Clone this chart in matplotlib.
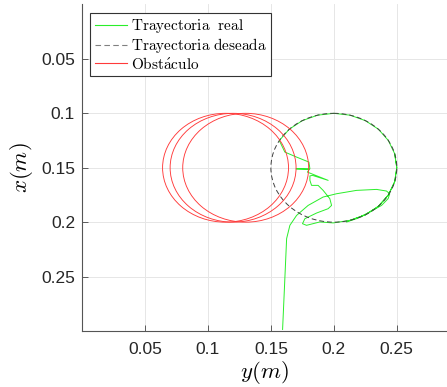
import matplotlib
matplotlib.use('Agg')
import matplotlib.pyplot as plt
from matplotlib.patches import Circle
from matplotlib.lines import Line2D

plt.rcParams['mathtext.fontset'] = 'cm'
plt.rcParams['font.family'] = ['Liberation Sans', 'DejaVu Sans']
plt.rcParams['xtick.direction'] = 'in'
plt.rcParams['ytick.direction'] = 'in'

# desired trajectory (circle) and obstacle positions
desired_center = (0.2, 0.15)
desired_radius = 0.05
obstacle_centers = [0.114, 0.120, 0.130]
obstacle_row = 0.15
obstacle_radius = 0.05

# real trajectory (horizontal = y, vertical = x)
real_y = [0.1593, 0.1611, 0.1625, 0.1651, 0.1704, 0.1796, 0.1915, 0.2021, 0.2180, 0.2339,
          0.2418, 0.2444, 0.2431, 0.2379, 0.2286, 0.2180, 0.2101,
          0.2129, 0.2250, 0.2354, 0.2433, 0.2483, 0.2500, 0.2483, 0.2433, 0.2354, 0.2250,
          0.2129, 0.2000, 0.1871, 0.1750, 0.1646, 0.1567,
          0.1611, 0.1704, 0.1783, 0.1802, 0.1810, 0.1700, 0.1805, 0.1790, 0.1955, 0.1830,
          0.1810, 0.1810, 0.1823, 0.1875, 0.1915, 0.1968, 0.1982, 0.1955, 0.1863, 0.1770,
          0.1751, 0.1783, 0.1889, 0.1995,
          0.2129, 0.2250, 0.2354, 0.2433, 0.2483, 0.2500, 0.2483]
real_x = [0.2986, 0.2518, 0.2151, 0.2029, 0.1938, 0.1846, 0.1769, 0.1739, 0.1708, 0.1699,
          0.1714, 0.1739, 0.1784, 0.1846, 0.1906, 0.1968, 0.1998,
          0.1983, 0.1933, 0.1854, 0.1750, 0.1629, 0.1500, 0.1371, 0.1250, 0.1146, 0.1067,
          0.1017, 0.1000, 0.1017, 0.1067, 0.1146, 0.1250,
          0.1356, 0.1402, 0.1439, 0.1448, 0.1510, 0.1510, 0.1515, 0.1540, 0.1616, 0.1570,
          0.1575, 0.1616, 0.1662, 0.1662, 0.1708, 0.1784, 0.1846, 0.1876, 0.1916, 0.1968,
          0.2014, 0.2029, 0.1998, 0.2007,
          0.1983, 0.1933, 0.1854, 0.1750, 0.1629, 0.1500, 0.1371]

xticks = [0.05, 0.1, 0.15, 0.2, 0.25]
yticks = [0.05, 0.1, 0.15, 0.2, 0.25]

fig = plt.figure(figsize=(4.47, 3.87), dpi=100)
ax = fig.add_axes([0.1834, 0.1447, 0.8170, 0.8437])

ax.plot(real_y, real_x, color='#2aee2a', lw=0.7, zorder=3)
ax.add_patch(Circle(desired_center, desired_radius, fill=False, ls=(0, (5, 3)),
                    ec='#404040', lw=0.7, zorder=4))
for c in obstacle_centers:
    ax.add_patch(Circle((c, obstacle_row), obstacle_radius, fill=False,
                        ec='#ff3a3a', lw=0.65, zorder=5))

ax.set_xlim(0, 0.29)
ax.set_ylim(0.3, 0)
ax.set_xticks(xticks)
ax.set_yticks(yticks)
ax.set_xticklabels(['%g' % t for t in xticks])
ax.set_yticklabels(['%g' % t for t in yticks])
ax.tick_params(labelsize=12.5, length=4, width=0.6, color='#444444', labelcolor='#262626')
ax.tick_params(axis='x', pad=8)
ax.tick_params(axis='y', pad=5)
ax.grid(True, color='#e6e6e6', lw=0.7)
ax.set_axisbelow(True)
for s in ['top', 'right']:
    ax.spines[s].set_visible(False)
for s in ['left', 'bottom']:
    ax.spines[s].set_color('#555555')
    ax.spines[s].set_linewidth(0.8)

ax.set_xlabel(r'$y(m)$', fontsize=16.5, labelpad=1.5)
ax.set_ylabel(r'$x(m)$', fontsize=16.5, labelpad=4)

handles = [Line2D([], [], color='#2aee2a', lw=0.8),
           Line2D([], [], color='#808080', lw=0.8, ls=(0, (5, 3))),
           Line2D([], [], color='#ff3a3a', lw=0.8)]
labels = [r'$\mathrm{Trayectoria\ \ real}$', r'$\mathrm{Trayectoria\ deseada}$',
          r'$\mathrm{Obst\acute{a}culo}$']
leg = ax.legend(handles, labels, loc='upper left', bbox_to_anchor=(0.022, 0.975),
                borderaxespad=0, fontsize=11, frameon=True, fancybox=False,
                framealpha=1, edgecolor='#333333', handlelength=2.1,
                handletextpad=0.25, labelspacing=0.05, borderpad=0.3)
leg.get_frame().set_linewidth(0.8)

plt.savefig('out.png', dpi=100)
